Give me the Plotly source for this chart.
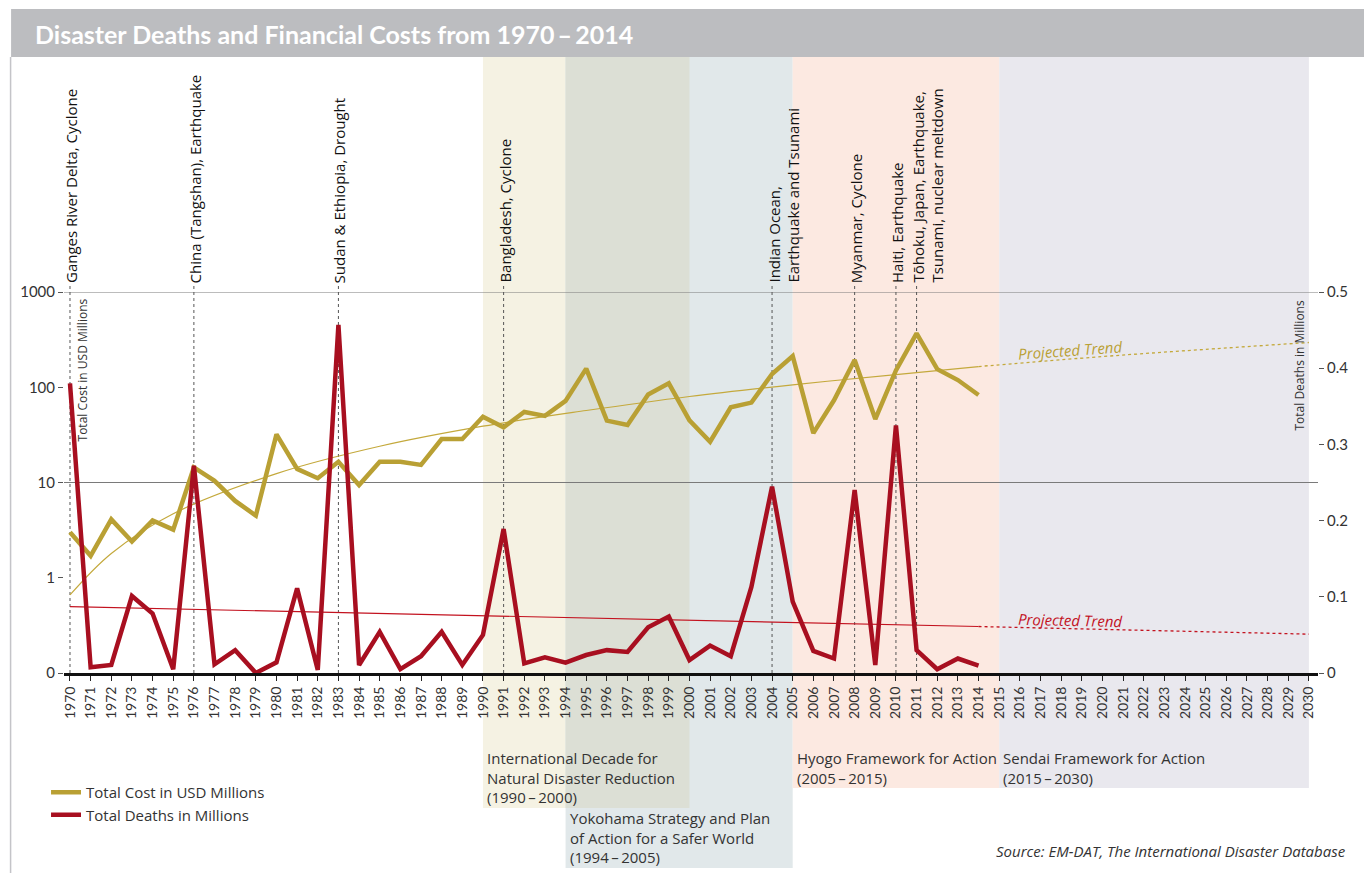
import plotly.graph_objects as go

# ---------------- data ----------------
years = list(range(1970, 2015))
cost_usd_millions = [3.0, 1.7, 4.1, 2.4, 4.0, 3.2, 14.4, 10.4, 6.4, 4.5,
                     32, 13.9, 11.1, 16.5, 9.4, 16.5, 16.5, 15.3, 28.6, 28.6,
                     49, 38, 55, 50, 72, 157, 44.6, 40.2, 84, 110,
                     45, 26.8, 61.6, 69, 138, 213, 33, 73, 193, 46.4,
                     150, 368, 155, 119, 83]
deaths_millions = [0.380, 0.0075, 0.0105, 0.101, 0.078, 0.005, 0.272, 0.0114, 0.030, 0.0,
                   0.014, 0.111, 0.004, 0.457, 0.0105, 0.054, 0.005, 0.022, 0.054, 0.0105,
                   0.050, 0.189, 0.0127, 0.0206, 0.0136, 0.0236, 0.030, 0.0276, 0.060, 0.074,
                   0.017, 0.036, 0.022, 0.113, 0.2445, 0.0936, 0.029, 0.019, 0.240, 0.0105,
                   0.325, 0.030, 0.005, 0.019, 0.0096]

cost_trend_years = [1970, 1972, 1975, 1980, 1985, 1990, 1995, 2000, 2005, 2010, 2014]
cost_trend_values = [0.66, 1.8, 4.7, 12.4, 24, 39, 57, 80, 106, 136, 165]
cost_projection_years = [2014, 2020, 2025, 2030]
cost_projection_values = [165, 210, 250, 295]

death_trend_years = [1970, 2014]
death_trend_values = [0.087, 0.061]
death_projection_years = [2014, 2030]
death_projection_values = [0.061, 0.051]

event_years = [1970, 1976, 1983, 1991, 2004, 2008, 2010, 2011]
event_labels = ["Ganges River Delta, Cyclone",
                "China (Tangshan), Earthquake",
                "Sudan &amp; Ethiopia, Drought",
                "Bangladesh, Cyclone",
                "Indian Ocean,<br>Earthquake and Tsunami",
                "Myanmar, Cyclone",
                "Haiti, Earthquake",
                "Tōhoku, Japan, Earthquake,<br>Tsunami, nuclear meltdown"]

period_labels = ["International Decade for<br>Natural Disaster Reduction<br>(1990\u2009–\u20092000)",
                 "Yokohama Strategy and Plan<br>of Action for a Safer World<br>(1994\u2009–\u20092005)",
                 "Hyogo Framework for Action<br>(2005\u2009–\u20092015)",
                 "Sendai Framework for Action<br>(2015\u2009–\u20092030)"]
period_starts = [1990, 1994, 2005, 2015]
period_ends = [2000, 2005, 2015, 2030]

year_ticks = list(range(1970, 2031))
cost_ticks = [0.1, 1, 10, 100, 1000]
cost_tick_labels = ["0", "1", "10", "100", "1000"]
death_ticks = [0, 0.1, 0.2, 0.3, 0.4, 0.5]
death_tick_labels = ["0", "0.1", "0.2", "0.3", "0.4", "0.5"]
gridline_costs = [1000, 10]

# ---------------- styles / layout geometry ----------------
OFF = 8                      # page offset of the figure (body margin)
W, H = 1372 - OFF, 873 - OFF
L, R, T, B = 62 - OFF, 54, 292 - OFF, 200
PW = W - L - R
PH = H - T - B


def px(x):
    """page x pixel -> paper x"""
    return (x - OFF - L) / PW


def py(y):
    """page y pixel -> paper y"""
    return (H - B - (y - OFF)) / PH


FONT = "'Open Sans', Lato, sans-serif"
NUMFONT = "Lato, 'Open Sans', sans-serif"
GOLD = "#b9a034"
GOLD_THIN = "#c4a93c"
RED = "#a80f20"
RED_THIN = "#c3121f"
TXT = "#333333"

period_colors = ["#f5f2e3", "#e1e8ea", "#fce9e1", "#e9e8ee"]
overlap_color = "#dcdfd5"
period_bottom_px = [808, 868, 788, 788]
period_label_top_px = [746, 806, 746, 746]

fig = go.Figure()

fig.add_trace(go.Scatter(x=cost_trend_years, y=cost_trend_values, mode="lines",
                         line=dict(color=GOLD_THIN, width=1.2, shape="spline"),
                         showlegend=False, hoverinfo="skip"))
fig.add_trace(go.Scatter(x=cost_projection_years, y=cost_projection_values, mode="lines",
                         line=dict(color=GOLD_THIN, width=1.3, dash="dot", shape="spline"),
                         showlegend=False, hoverinfo="skip"))
fig.add_trace(go.Scatter(x=death_trend_years, y=death_trend_values, mode="lines", yaxis="y2",
                         line=dict(color=RED_THIN, width=1.2),
                         showlegend=False, hoverinfo="skip"))
fig.add_trace(go.Scatter(x=death_projection_years, y=death_projection_values, mode="lines", yaxis="y2",
                         line=dict(color=RED_THIN, width=1.3, dash="dot"),
                         showlegend=False, hoverinfo="skip"))

fig.add_trace(go.Scatter(x=years, y=cost_usd_millions, mode="lines", name="Total Cost in USD Millions",
                         line=dict(color=GOLD, width=4.5)))
fig.add_trace(go.Scatter(x=years, y=deaths_millions, mode="lines", name="Total Deaths in Millions",
                         yaxis="y2", line=dict(color=RED, width=4.5)))

shapes = []
# title bar
shapes.append(dict(type="rect", xref="paper", yref="paper", x0=px(9), x1=px(1370), y0=py(57), y1=py(9),
                   fillcolor="#bcbdc0", line=dict(width=0), layer="below"))
# frame lines
for xb in (8.5, 1368):
    shapes.append(dict(type="line", xref="paper", yref="paper", x0=px(xb), x1=px(xb), y0=py(57), y1=py(873),
                       line=dict(color="#c4c4c8", width=1.5), layer="below"))
# period bands
top_band = py(57)
for i in (0, 1):
    shapes.append(dict(type="rect", xref="x", yref="paper", x0=period_starts[i], x1=period_ends[i],
                       y0=py(period_bottom_px[i]), y1=top_band, fillcolor=period_colors[i],
                       line=dict(width=0), layer="below"))
ov0 = max(period_starts[0], period_starts[1])
ov1 = min(period_ends[0], period_ends[1])
shapes.append(dict(type="rect", xref="x", yref="paper", x0=ov0, x1=ov1,
                   y0=py(min(period_bottom_px[0], period_bottom_px[1])), y1=top_band,
                   fillcolor=overlap_color, line=dict(width=0), layer="below"))
for i in (2, 3):
    shapes.append(dict(type="rect", xref="x", yref="paper", x0=period_starts[i], x1=period_ends[i],
                       y0=py(period_bottom_px[i]), y1=top_band, fillcolor=period_colors[i],
                       line=dict(width=0), layer="below"))
# gridlines
for g in gridline_costs:
    shapes.append(dict(type="line", xref="paper", yref="y", x0=0, x1=1, y0=g, y1=g,
                       line=dict(color="#7a7a7a", width=1), layer="below"))
# event lines
for ey in event_years:
    shapes.append(dict(type="line", xref="x", yref="paper", x0=ey, x1=ey, y0=0, y1=py(286),
                       line=dict(color="#555555", width=1, dash="dot"), layer="below"))

annotations = []
annotations.append(dict(text="Disaster Deaths and Financial Costs from 1970\u2009–\u20092014",
                        xref="paper", yref="paper", x=px(31), y=py(34), xanchor="left", yanchor="middle",
                        showarrow=False, font=dict(family=NUMFONT, size=25, color="white", weight=700)))
for ey, lab in zip(event_years, event_labels):
    annotations.append(dict(text=lab, xref="x", yref="paper", x=ey, y=py(285), textangle=-90,
                            xanchor="left", yanchor="bottom", xshift=-11, align="left", showarrow=False,
                            font=dict(family=FONT, size=15, color="#111111")))
annotations.append(dict(text="Total Cost in USD Millions", xref="paper", yref="paper", x=px(81), y=py(296),
                        textangle=-90, xanchor="center", yanchor="top", showarrow=False,
                        font=dict(family=FONT, size=12, color=TXT)))
annotations.append(dict(text="Total Deaths in Millions", xref="paper", yref="paper", x=px(1299), y=py(298),
                        textangle=-90, xanchor="center", yanchor="top", showarrow=False,
                        font=dict(family=FONT, size=12, color=TXT)))
annotations.append(dict(text="<i>Projected Trend</i>", xref="paper", yref="paper", x=px(1070), y=py(350),
                        textangle=-4, xanchor="center", yanchor="middle", showarrow=False,
                        font=dict(family=FONT, size=15, color=GOLD)))
annotations.append(dict(text="<i>Projected Trend</i>", xref="paper", yref="paper", x=px(1070), y=py(620),
                        textangle=1.3, xanchor="center", yanchor="middle", showarrow=False,
                        font=dict(family=FONT, size=15, color=RED_THIN)))
for i, lab in enumerate(period_labels):
    annotations.append(dict(text=lab, xref="x", yref="paper", x=period_starts[i], y=py(period_label_top_px[i]),
                            xanchor="left", yanchor="top", xshift=2, align="left", showarrow=False,
                            font=dict(family=FONT, size=15, color=TXT)))
annotations.append(dict(text="<i>Source: EM-DAT, The International Disaster Database</i>",
                        xref="paper", yref="paper", x=px(1348), y=py(851), xanchor="right", yanchor="middle",
                        showarrow=False, font=dict(family=FONT, size=15, color=TXT)))

fig.update_layout(
    width=W, height=H,
    margin=dict(l=L, r=R, t=T, b=B, pad=0),
    paper_bgcolor="white", plot_bgcolor="rgba(0,0,0,0)",
    font=dict(family=FONT, size=14, color=TXT),
    shapes=shapes, annotations=annotations,
    showlegend=True,
    legend=dict(x=px(44), y=py(776), xanchor="left", yanchor="top", bgcolor="rgba(0,0,0,0)",
                font=dict(family=FONT, size=15, color=TXT), itemwidth=30, tracegroupgap=0),
    xaxis=dict(range=[1969.71, 2030.44], tickmode="array", tickvals=year_ticks,
               ticktext=[str(y) for y in year_ticks], tickangle=-90, ticks="outside", ticklen=5,
               tickwidth=1, tickcolor="#222222", showline=True, linewidth=3, linecolor="#111111",
               showgrid=False, zeroline=False, tickfont=dict(family=NUMFONT, size=14, color=TXT)),
    yaxis=dict(type="log", range=[-1, 3], tickmode="array", tickvals=cost_ticks, ticktext=cost_tick_labels,
               ticks="outside", ticklen=5, tickcolor="#555555", showgrid=False, zeroline=False,
               showline=False, tickfont=dict(family=NUMFONT, size=15, color=TXT)),
    yaxis2=dict(overlaying="y", side="right", range=[0, 0.5], tickmode="array", tickvals=death_ticks,
                ticktext=death_tick_labels, ticks="outside", ticklen=5, tickcolor="#555555",
                showgrid=False, zeroline=False, showline=False,
                tickfont=dict(family=NUMFONT, size=15, color=TXT)),
)

fig.write_html("out.html")
